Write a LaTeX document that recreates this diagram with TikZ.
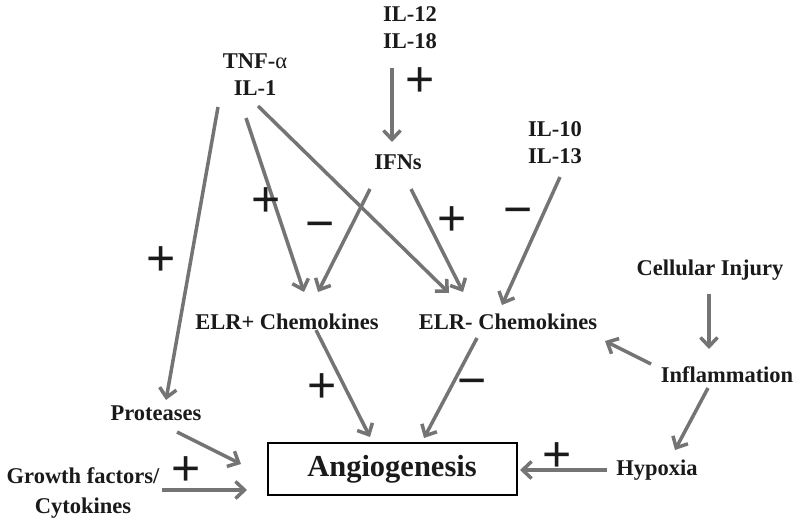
\documentclass[tikz,border=0pt]{standalone}
\usepackage{fontspec}
\setmainfont{Liberation Serif}
\newfontfamily\signfont{Liberation Sans}
\usetikzlibrary{arrows.meta,calc}
\definecolor{arr}{HTML}{747474}
\definecolor{txt}{HTML}{1A1A1A}
\tikzset{
  lbl/.style={font=\fontsize{22.5}{27}\selectfont\bfseries, text=txt, align=center, inner sep=0pt},
  sgn/.style={font=\signfont\fontsize{50}{50}\selectfont, text=txt, inner sep=0pt},
  con/.style={draw=arr, line width=3.5pt, -{Straight Barb[length=9pt,width=17pt]}},
}
\begin{document}
\begin{tikzpicture}[x=1pt,y=-1pt]
\useasboundingbox (0,0) rectangle (800,525);
\node[lbl] (tnf) at (255,75) {TNF-{\mdseries α}\\IL-1};
\node[lbl] (il12) at (410,28) {IL-12\\IL-18};
\node[lbl] (ifn) at (398,162) {IFNs};
\node[lbl] (il10) at (555,143) {IL-10\\IL-13};
\node[lbl] (cell) at (710,270) {Cellular Injury};
\node[lbl] (elrp) at (287,322) {ELR+ Chemokines};
\node[lbl] (elrm) at (508,322) {ELR- Chemokines};
\node[lbl] (infl) at (727,375) {Inflammation};
\node[lbl] (hyp) at (657,470) {Hypoxia};
\node[lbl] (prot) at (156,413) {Proteases};
\node[lbl, font=\fontsize{22.5}{30}\selectfont\bfseries] (growth) at (83,493) {Growth factors/\\Cytokines};
\node[draw=black, line width=2pt, minimum width=249pt, minimum height=52pt, inner sep=0pt,
      font=\fontsize{30.5}{30}\selectfont\bfseries, text=txt] (ang) at (392,469) {Angiogenesis};

\draw[con] ($(il12)+(-18,40)$) -- ($(ifn)+(-6,-20)$);
\draw[con] ($(tnf)+(-37,32)$) -- ($(prot)+(10,-13)$);
\draw[con] ($(tnf)+(-9,43)$) -- ($(elrp)+(17,-30)$);
\draw[con] ($(tnf)+(3,31)$) -- ($(elrm)+(-59,-29)$);
\draw[con] ($(ifn)+(-28,27)$) -- ($(elrp)+(31,-30)$);
\draw[con] ($(ifn)+(13,27)$) -- ($(elrm)+(-45,-30)$);
\draw[con] ($(il10)+(5,34)$) -- ($(elrm)+(-6,-17)$);
\draw[con] ($(cell)+(-1,24)$) -- ($(infl)+(-18,-26)$);
\draw[con] ($(infl)+(-76,-11)$) -- ($(elrm)+(97,19)$);
\draw[con] ($(infl)+(-19,13)$) -- ($(hyp)+(18,-20)$);
\draw[con] ($(hyp)+(-50,0)$) -- ($(ang)+(128,1)$);
\draw[con] ($(elrm)+(-31,16)$) -- ($(ang)+(32,-31)$);
\draw[con] ($(elrp)+(29,8)$) -- ($(ang)+(-22,-32)$);
\draw[con] ($(prot)+(21,19)$) -- ($(ang)+(-151,-5)$);
\draw[con] ($(growth)+(79,-3)$) -- ($(ang)+(-145,21)$);

\node[sgn] (s1) at (420,82) {+};
\node[sgn] (s2) at (161,261) {+};
\node[sgn] (s3) at (266,202) {+};
\node[sgn] (s4) at (320,231) {−};
\node[sgn] (s5) at (452,221) {+};
\node[sgn] (s6) at (518,217) {−};
\node[sgn] (s7) at (322,388) {+};
\node[sgn] (s8) at (472,388) {−};
\node[sgn] (s9) at (557,457) {+};
\node[sgn] (s10) at (186,471) {+};
\end{tikzpicture}
\end{document}
